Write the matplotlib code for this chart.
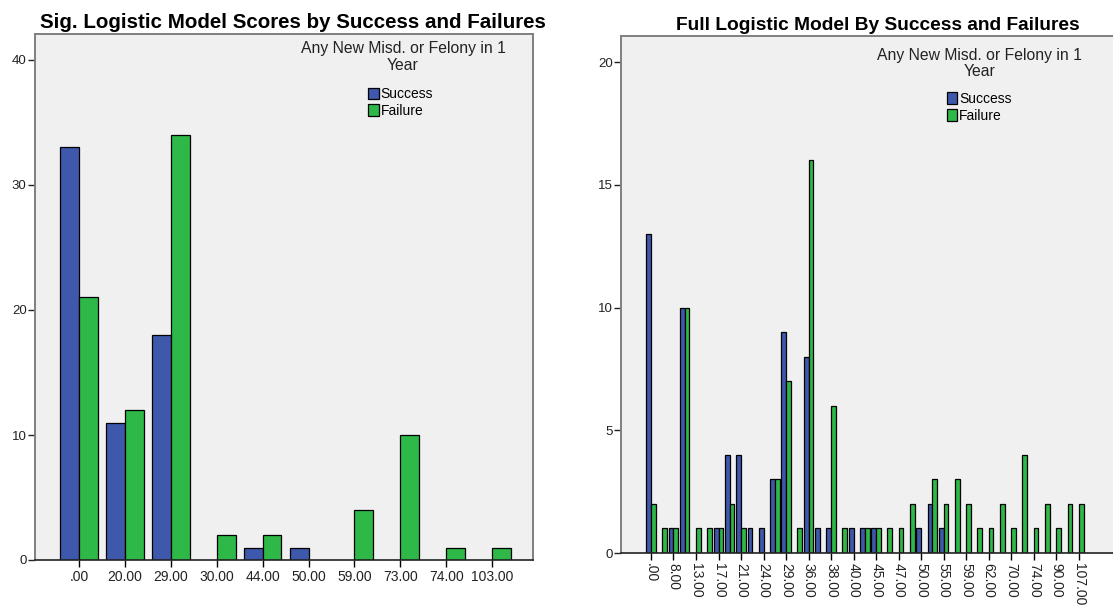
import matplotlib
matplotlib.use("Agg")
import matplotlib.pyplot as plt
import numpy as np

plt.rcParams['font.family'] = ['Liberation Sans', 'DejaVu Sans']

# --- left chart: significant-variables model ---
sig_labels = [".00", "20.00", "29.00", "30.00", "44.00", "50.00", "59.00", "73.00", "74.00", "103.00"]
sig_success = [33, 11, 18, 0, 1, 1, 0, 0, 0, 0]
sig_failure = [21, 12, 34, 2, 2, 0, 4, 10, 1, 1]

# --- right chart: full model (only every other category is labelled) ---
full_labels = [".00", "", "8.00", "", "13.00", "", "17.00", "", "21.00", "",
               "24.00", "", "29.00", "", "36.00", "", "38.00", "", "40.00", "",
               "45.00", "", "47.00", "", "50.00", "", "55.00", "", "59.00", "",
               "62.00", "", "70.00", "", "74.00", "", "90.00", "", "107.00"]
full_success = [13, 0, 1, 10, 0, 0, 1, 4, 4, 1,
                1, 3, 9, 0, 8, 1, 1, 0, 1, 1,
                1, 0, 0, 0, 1, 2, 1, 0, 0, 0,
                0, 0, 0, 0, 0, 0, 0, 0, 0]
full_failure = [2, 1, 1, 10, 1, 1, 1, 2, 1, 0,
                0, 3, 7, 1, 16, 0, 6, 1, 0, 1,
                1, 1, 1, 2, 0, 3, 2, 3, 2, 1,
                1, 2, 1, 4, 1, 2, 1, 2, 2]

legend_title = "Any New Misd. or Felony in 1\nYear"

blue = "#3E58AC"
green = "#2EB848"
bg = "#F0F0F0"
frame = "#7F7F7F"

fig = plt.figure(figsize=(11.13, 6.05), dpi=100)


def draw(ax, labels, succ, fail, width, xlim, ylim, yticks, rotate, title, tsize, tx):
    x = np.arange(len(labels))
    ax.set_facecolor(bg)
    s = ax.bar(x - width / 2, succ, width, color=blue, edgecolor="black", linewidth=0.9, label="Success")
    f = ax.bar(x + width / 2, fail, width, color=green, edgecolor="black", linewidth=0.9, label="Failure")
    # hide zero-height bars
    for p in list(s) + list(f):
        if p.get_height() == 0:
            p.set_visible(False)
    ax.set_xlim(*xlim)
    ax.set_ylim(*ylim)
    ax.set_yticks(yticks)
    ax.tick_params(axis="y", labelsize=9.5, length=5, width=1, colors="#222222", pad=1)
    shown = [i for i, l in enumerate(labels) if l]
    ax.set_xticks(shown)
    ax.set_xticklabels([labels[i] for i in shown], rotation=270 if rotate else 0,
                       fontsize=10, color="#222222")
    ax.tick_params(axis="x", length=5, width=1, pad=2)
    for sp in ax.spines.values():
        sp.set_color(frame)
        sp.set_linewidth(1.4)
    ax.spines["bottom"].set_color("#222222")
    ax.spines["bottom"].set_linewidth(1.2)
    ax.set_title(title, fontsize=tsize, fontweight="bold", pad=4, x=tx)
    return s, f


def legend(ax, tx, ty, lx, ly):
    ax.text(tx, ty, legend_title, transform=ax.transAxes, ha="center", va="top",
            multialignment="center", fontsize=11.3, linespacing=1.1, color="#222222")
    ax.legend(loc="upper left", bbox_to_anchor=(lx, ly), frameon=False, fontsize=10,
              handlelength=0.75, handleheight=0.9, handletextpad=0.15,
              labelspacing=0.2, borderpad=0, borderaxespad=0)


ax1 = fig.add_axes([35 / 1113, 45 / 605, 498 / 1113, 526 / 605])
draw(ax1, sig_labels, sig_success, sig_failure, 0.41,
     (-0.96, 9.89), (0, 42.08), [0, 10, 20, 30, 40], False,
     "Sig. Logistic Model Scores by Success and Failures", 14.8, 0.518)
legend(ax1, 0.739, 0.986, 0.669, 0.899)

ax2 = fig.add_axes([621 / 1113, 52 / 605, 499 / 1113, 517.4 / 605])
draw(ax2, full_labels, full_success, full_failure, 0.42,
     (-2.66, 41.66), (0, 21.08), [0, 5, 10, 15, 20], True,
     "Full Logistic Model By Success and Failures", 13.8, 0.514)
legend(ax2, 0.719, 0.976, 0.653, 0.891)

fig.savefig("out.png", dpi=100)
